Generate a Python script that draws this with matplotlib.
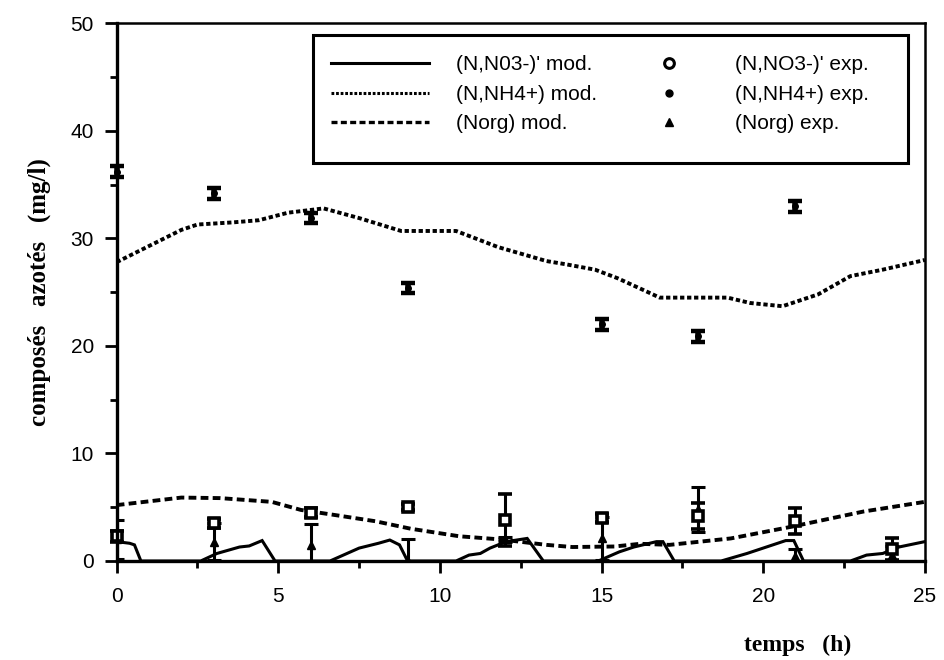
import matplotlib
matplotlib.use("Agg")
import matplotlib.pyplot as plt
from matplotlib.lines import Line2D
from matplotlib.patches import Rectangle

# model curves
nh4_mod_t = [0, 1.2, 2.0, 2.5, 3.6, 4.4, 5.3, 6.4, 7.5, 8.8, 10.5, 11.8, 13.3, 13.9, 14.8,
             15.5, 16.3, 16.8, 18.9, 19.6, 20.6, 21.7, 22.7, 23.7, 25]
nh4_mod_y = [27.8, 29.6, 30.8, 31.3, 31.5, 31.7, 32.4, 32.8, 31.9, 30.7, 30.7, 29.2, 27.9, 27.6, 27.1,
             26.3, 25.2, 24.5, 24.5, 24.0, 23.7, 24.8, 26.5, 27.1, 28.0]

norg_mod_t = [0, 2.0, 3.2, 4.8, 5.7, 6.7, 8.0, 9.1, 10.6, 11.9, 13.3, 14.1, 15.4, 16.2, 17.1,
              19.0, 20.9, 23.1, 25]
norg_mod_y = [5.2, 5.9, 5.85, 5.5, 4.75, 4.3, 3.7, 3.0, 2.3, 2.0, 1.5, 1.3, 1.35, 1.6, 1.5,
              2.1, 3.2, 4.6, 5.5]

no3_mod_t = [0, 0.4, 0.55, 0.75, 2.6, 3.1, 3.8, 4.1, 4.5, 4.9, 6.6, 7.5, 8.1, 8.45, 8.75, 9.0,
             10.5, 10.9, 11.25, 11.55, 12.05, 12.7, 13.2, 14.9, 15.55, 16.0, 16.7, 16.9, 17.25,
             18.7, 19.5, 20.0, 20.7, 20.95, 21.25, 22.7, 23.2, 23.7, 24.2, 25]
no3_mod_y = [1.8, 1.65, 1.5, 0, 0, 0.7, 1.3, 1.4, 1.9, 0, 0, 1.2, 1.65, 1.95, 1.5, 0,
             0, 0.55, 0.7, 1.2, 1.8, 2.1, 0, 0, 0.85, 1.3, 1.8, 1.8, 0,
             0, 0.7, 1.2, 1.9, 1.9, 0, 0, 0.55, 0.7, 1.3, 1.8]

# measurements
nh4_exp_t = [0, 3, 6, 9, 15, 18, 21]
nh4_exp_y = [36.2, 34.2, 31.9, 25.4, 22.0, 20.9, 33.0]
nh4_exp_err = [0.5, 0.5, 0.5, 0.5, 0.5, 0.5, 0.5]

no3_exp_t = [0, 3, 6, 9, 12, 15, 18, 21, 24]
no3_exp_y = [2.3, 3.5, 4.5, 5.0, 3.8, 4.0, 4.2, 3.7, 1.1]
no3_exp_err = [0.5, 0.4, 0.4, 0.3, 2.4, 0.4, 1.2, 1.2, 1.0]

norg_exp_t = [0, 3, 6, 9, 12, 15, 18, 21, 24]
norg_exp_y = [2.0, 1.8, 1.5, 0.0, 2.0, 2.1, 4.8, 0.5, 0.6]
norg_exp_err = [1.8, 1.7, 1.9, 2.0, 0.2, 2.0, 2.1, 0.6, 0.8]

mod_labels = ["(N,N03-)' mod.", "(N,NH4+) mod.", "(Norg) mod."]
exp_labels = ["(N,NO3-)' exp.", "(N,NH4+) exp.", "(Norg) exp."]

sans = ["Liberation Sans", "DejaVu Sans"]
serif = ["Liberation Serif", "DejaVu Serif"]

dot_style = (0, (1.1, 0.7))
dash_style = (0, (2.0, 1.1))

fig = plt.figure(figsize=(9.44, 6.6), dpi=100)
ax = fig.add_axes([0.1236, 0.15, 0.856, 0.8144])

ax.plot(no3_mod_t, no3_mod_y, color="black", lw=2.2, solid_joinstyle="miter")
ax.plot(nh4_mod_t, nh4_mod_y, color="black", lw=2.8, linestyle=dot_style, dash_capstyle="butt")
ax.plot(norg_mod_t, norg_mod_y, color="black", lw=2.8, linestyle=dash_style, dash_capstyle="butt")

ax.errorbar(nh4_exp_t, nh4_exp_y, yerr=nh4_exp_err, fmt="o", color="black", ms=4,
            elinewidth=4, capsize=5, capthick=3.2, clip_on=False)
ax.errorbar(norg_exp_t, norg_exp_y, yerr=norg_exp_err, fmt="^", color="black", ms=6,
            elinewidth=2.2, capsize=5, capthick=2.2)
ax.errorbar(no3_exp_t, no3_exp_y, yerr=no3_exp_err, fmt="s", color="black", mfc="white",
            mec="black", mew=2.6, ms=7, elinewidth=2.2, capsize=5, capthick=2.2, clip_on=False)

ax.set_xlim(0, 25)
ax.set_ylim(0, 50)
ax.set_xticks([0, 5, 10, 15, 20, 25])
ax.set_xticks([2.5, 7.5, 12.5, 17.5, 22.5], minor=True)
ax.set_yticks([0, 10, 20, 30, 40, 50])
ax.set_yticks([5, 15, 25, 35, 45], minor=True)
ax.tick_params(which="major", length=8.5, width=2, direction="out")
ax.tick_params(which="minor", length=5, width=2, direction="out")
ax.tick_params(axis="x", which="major", pad=10)
ax.tick_params(axis="y", which="major", pad=8)
for lab in ax.get_xticklabels() + ax.get_yticklabels():
    lab.set_fontfamily(sans)
    lab.set_fontsize(15)
for side in ["left", "bottom"]:
    ax.spines[side].set_linewidth(2.4)
for side in ["top", "right"]:
    ax.spines[side].set_linewidth(1.8)

ax.set_ylabel("composés   azotés   (mg/l)", fontfamily=serif, fontweight="bold", fontsize=18)
ax.yaxis.set_label_coords(-0.081, 0.5)
ax.set_xlabel("temps   (h)", fontfamily=serif, fontweight="bold", fontsize=17)
ax.xaxis.set_label_coords(0.843, -0.138)

# legend: two frameless columns inside one drawn box
mod_handles = [
    Line2D([], [], color="black", lw=2.2),
    Line2D([], [], color="black", lw=2.2, linestyle=(0, (0.9, 0.6)), dash_capstyle="butt"),
    Line2D([], [], color="black", lw=2.4, linestyle=(0, (1.8, 1.0)), dash_capstyle="butt"),
]
exp_handles = [
    Line2D([], [], linestyle="none", marker="o", ms=7, mfc="white", mec="black", mew=2.2),
    Line2D([], [], linestyle="none", marker="o", ms=5, color="black"),
    Line2D([], [], linestyle="none", marker="^", ms=6, color="black"),
]
leg1 = ax.legend(mod_handles, mod_labels, loc="upper left", bbox_to_anchor=(0.252, 0.96),
                 frameon=False, borderpad=0, handlelength=4.7, handletextpad=1.3,
                 labelspacing=0.5, prop={"family": sans, "size": 15})
ax.add_artist(leg1)
ax.legend(exp_handles, exp_labels, loc="upper left", bbox_to_anchor=(0.66, 0.96),
          frameon=False, borderpad=0, handlelength=0.8, handletextpad=2.8,
          labelspacing=0.5, prop={"family": sans, "size": 15})
ax.add_patch(Rectangle((0.243, 0.7405), 0.736, 0.238, transform=ax.transAxes,
                       fill=False, edgecolor="black", lw=2.2, zorder=5))

fig.savefig("out.png", dpi=100)
